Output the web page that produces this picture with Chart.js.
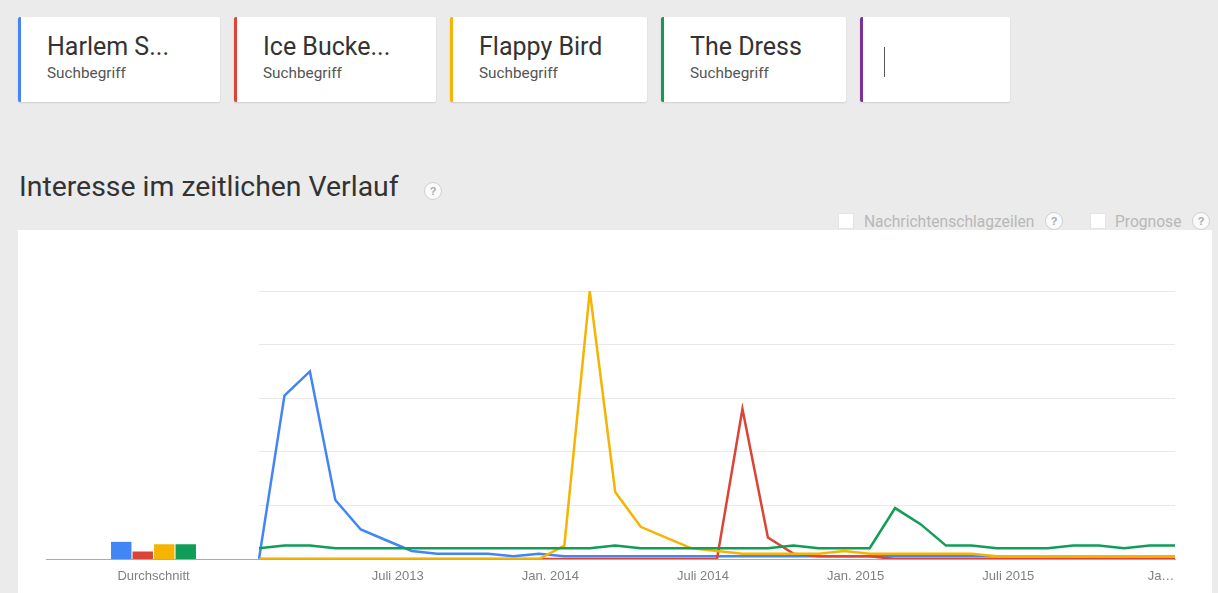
<!DOCTYPE html>
<html lang="de">

<head>
    <meta charset="UTF-8">
    <title>Interesse im zeitlichen Verlauf</title>
    <style>
        body { margin: 0; width: 1218px; height: 593px; overflow: hidden; background: #ebebeb; font-family: Roboto, "Liberation Sans", sans-serif; position: relative; }
        .card { position: absolute; top: 17px; height: 85px; background: #fff; border-left: 3px solid; border-radius: 2px; box-shadow: 0 1px 2px rgba(0, 0, 0, .12); box-sizing: border-box; }
        .card .t { position: absolute; left: 26px; top: 15px; font-size: 25px; line-height: 30px; color: #333; white-space: nowrap; }
        .card .s { position: absolute; left: 26px; top: 47px; font-size: 15.3px; line-height: 18px; color: #555; }
        .cursor { position: absolute; left: 21px; top: 30px; width: 1px; height: 30px; background: #555; }
        h2 { position: absolute; left: 19px; top: 170px; margin: 0; font-weight: 400; font-size: 28.4px; line-height: 34px; color: #333; }
        .help { position: absolute; width: 16px; height: 16px; border-radius: 50%; border: 1px solid #d0d0d0; background: #fafafa; color: #aaa; font: bold 11px "Liberation Sans", sans-serif; line-height: 16px; text-align: center; }
        .chk { position: absolute; top: 213px; width: 16px; height: 16px; background: #fff; border: 1px solid #e4e4e4; box-sizing: border-box; }
        .lbl { position: absolute; top: 212px; font-size: 15.6px; line-height: 20px; color: #b8b8b8; }
        #panel { position: absolute; left: 18px; top: 230px; width: 1194px; height: 363px; background: #fff; }
        canvas { position: absolute; }
    </style>
</head>

<body>
    <div class="card" style="left:18px;width:202px;border-color:#4285f4"><div class="t">Harlem S...</div><div class="s">Suchbegriff</div></div>
    <div class="card" style="left:234px;width:202px;border-color:#db4437"><div class="t">Ice Bucke...</div><div class="s">Suchbegriff</div></div>
    <div class="card" style="left:450px;width:197px;border-color:#f4b400"><div class="t">Flappy Bird</div><div class="s">Suchbegriff</div></div>
    <div class="card" style="left:661px;width:185px;border-color:#0f9d58"><div class="t">The Dress</div><div class="s">Suchbegriff</div></div>
    <div class="card" style="left:860px;width:150px;border-color:#7b3294"><div class="cursor"></div></div>

    <h2>Interesse im zeitlichen Verlauf</h2>
    <div class="help" style="left:424px;top:182px">?</div>

    <div id="panel"></div>
    <div class="chk" style="left:838px"></div>
    <div class="lbl" style="left:864px">Nachrichtenschlagzeilen</div>
    <div class="help" style="left:1045px;top:212px">?</div>
    <div class="chk" style="left:1090px"></div>
    <div class="lbl" style="left:1115px">Prognose</div>
    <div class="help" style="left:1192px;top:212px">?</div>

    <canvas id="avgChart" width="219" height="310" style="left:42px;top:281px"></canvas>
    <canvas id="trendChart" width="926" height="310" style="left:254px;top:281px"></canvas>

    <script src="https://cdn.jsdelivr.net/npm/chart.js"></script>
    <script>
        // Suchbegriffe und Farben
        const terms = ['Harlem Shake', 'Ice Bucket Challenge', 'Flappy Bird', 'The Dress'];
        const colors = ['#4285f4', '#db4437', '#f4b400', '#0f9d58'];

        // Monate Jan 2013 - Jan 2016
        const months = [
            '2013-01', '2013-02', '2013-03', '2013-04', '2013-05', '2013-06', '2013-07', '2013-08', '2013-09', '2013-10', '2013-11', '2013-12',
            '2014-01', '2014-02', '2014-03', '2014-04', '2014-05', '2014-06', '2014-07', '2014-08', '2014-09', '2014-10', '2014-11', '2014-12',
            '2015-01', '2015-02', '2015-03', '2015-04', '2015-05', '2015-06', '2015-07', '2015-08', '2015-09', '2015-10', '2015-11', '2015-12',
            '2016-01'
        ];
        const tickMonths = ['2013-07', '2014-01', '2014-07', '2015-01', '2015-07', '2016-01'];
        const tickLabels = ['Juli 2013', 'Jan. 2014', 'Juli 2014', 'Jan. 2015', 'Juli 2015', 'Ja…'];

        // Werte (0-100)
        const harlemShake = [0, 61, 70, 22, 11, 7, 3, 2, 2, 2, 1, 2, 1, 1, 1, 1, 1, 1, 1, 1, 1, 1, 1, 1, 1, 1, 1, 1, 1, 1, 1, 1, 1, 1, 1, 1, 1];
        const iceBucket = [0, 0, 0, 0, 0, 0, 0, 0, 0, 0, 0, 0, 0, 0, 0, 0, 0, 0, 0, 56, 8, 2, 1, 1, 1, 0, 0, 0, 0, 0, 0, 0, 0, 0, 0, 0, 0];
        const flappyBird = [0, 0, 0, 0, 0, 0, 0, 0, 0, 0, 0, 0, 5, 100, 25, 12, 8, 4, 3, 2, 2, 2, 2, 3, 2, 2, 2, 2, 2, 1, 1, 1, 1, 1, 1, 1, 1];
        const theDress = [4, 5, 5, 4, 4, 4, 4, 4, 4, 4, 4, 4, 4, 4, 5, 4, 4, 4, 4, 4, 4, 5, 4, 4, 4, 19, 13, 5, 5, 4, 4, 4, 5, 5, 4, 5, 5];

        // Durchschnitt
        const averages = [6.4, 2.8, 5.5, 5.5];

        const series = [harlemShake, iceBucket, flappyBird, theDress];
        const drawOrder = [4, 3, 2, 1]; // Blau unten, Grün oben

        // Balken: Durchschnitt
        const avgCtx = document.getElementById('avgChart').getContext('2d');
        new Chart(avgCtx, {
            type: 'bar',
            data: {
                labels: ['Durchschnitt'],
                datasets: terms.map((t, i) => ({
                    label: t,
                    data: [averages[i]],
                    backgroundColor: colors[i],
                    barPercentage: 0.95,
                    categoryPercentage: 0.4
                }))
            },
            options: {
                responsive: false,
                animation: false,
                layout: { padding: { left: 4, right: 0, top: 10, bottom: 0 } },
                plugins: { legend: { display: false }, tooltip: { enabled: false } },
                scales: {
                    x: {
                        grid: { display: false },
                        border: { color: '#aaaaaa', width: 1 },
                        ticks: { color: '#808080', font: { family: 'Liberation Sans', size: 13 }, padding: 2 },
                        afterFit: s => { s.height = 32; }
                    },
                    y: { display: false, min: 0, max: 100 }
                }
            }
        });

        // Linien: Zeitverlauf
        const trendCtx = document.getElementById('trendChart').getContext('2d');
        new Chart(trendCtx, {
            type: 'line',
            data: {
                labels: months,
                datasets: terms.map((t, i) => ({
                    label: t,
                    data: series[i],
                    borderColor: colors[i],
                    backgroundColor: colors[i],
                    borderWidth: 2.5,
                    pointRadius: 0,
                    tension: 0,
                    order: drawOrder[i]
                }))
            },
            options: {
                responsive: false,
                animation: false,
                layout: { padding: { left: 5, right: 5, top: 10, bottom: 0 } },
                plugins: { legend: { display: false }, tooltip: { enabled: false } },
                scales: {
                    x: {
                        grid: { display: false },
                        border: { color: '#aaaaaa', width: 1 },
                        ticks: {
                            autoSkip: false,
                            maxRotation: 0,
                            color: '#808080',
                            font: { family: 'Liberation Sans', size: 13 },
                            padding: 2,
                            labelOffset: -14,
                            callback: function (value, index) {
                                const k = tickMonths.indexOf(months[index]);
                                return k >= 0 ? tickLabels[k] : '';
                            }
                        },
                        afterFit: s => { s.height = 32; s.paddingLeft = 0; s.paddingRight = 0; }
                    },
                    y: {
                        min: 0,
                        max: 100,
                        ticks: { stepSize: 20, display: false },
                        grid: { color: '#e9e9e9', lineWidth: 1, drawTicks: false },
                        border: { display: false },
                        afterFit: s => { s.width = 0; }
                    }
                }
            }
        });
    </script>
</body>

</html>
